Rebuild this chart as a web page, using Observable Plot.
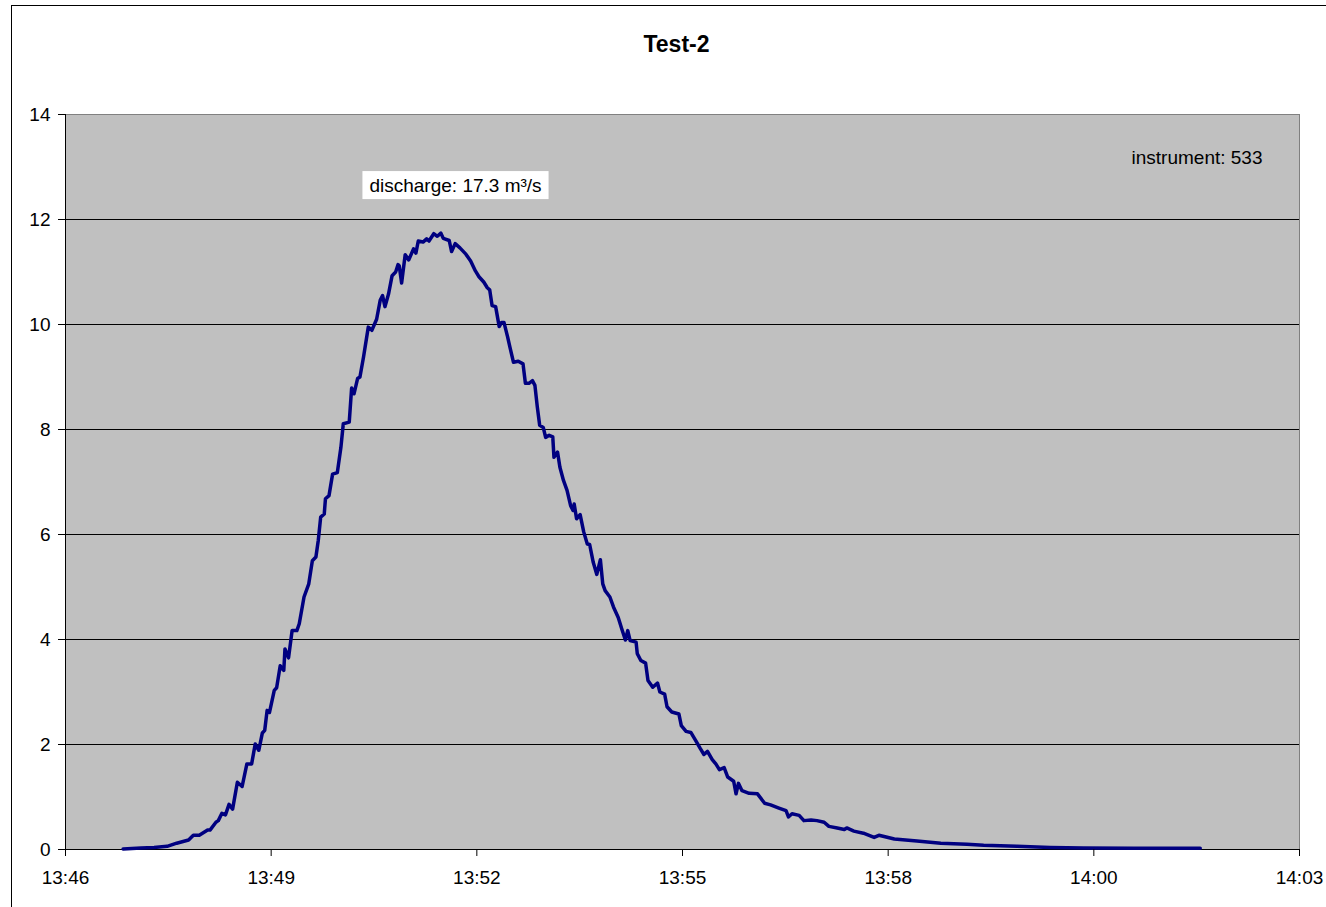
<!DOCTYPE html>
<html><head><meta charset="utf-8">
<script src="https://cdn.jsdelivr.net/npm/d3@7"></script>
<script src="https://cdn.jsdelivr.net/npm/@observablehq/plot@0.6"></script>
<style>
html,body{margin:0;padding:0;background:#fff;overflow:hidden;}
#wrap{position:relative;width:1326px;height:907px;}
#border{position:absolute;left:11px;top:5px;width:1400px;height:1000px;border:1px solid #000;pointer-events:none;}
</style></head><body>
<div id="wrap"></div>
<script>
const title = "Test-2";
const noteDischarge = "discharge: 17.3 m³/s";
const noteInstrument = "instrument: 533";

// seconds after 13:46:00
const timeSec = [82,97,108,119,127,137,141,146,153,155,
160,162,165,168,171,174,178,182,186,190,
193,196,199,201,203,205,209,211,214,217,
218,221,224,228,230,234,238,241,244,246,
248,251,252,255,258,262,265,267,272,274,
276,279,281,284,288,291,295,298,300,302,
305,308,311,313,314,316,319,322,326,328,
330,334,337,339,343,346,349,351,356,358,
361,365,370,374,378,381,385,388,390,392,
395,398,400,402,405,407,410,414,418,420,
423,426,428,430,432,435,437,440,443,444,
447,449,452,455,458,460,461,463,466,469,
472,474,477,480,483,485,487,491,494,498,
501,504,506,508,513,514,517,521,523,527,
531,533,537,539,543,549,551,555,559,563,
567,570,573,577,580,583,587,590,595,597,
599,602,608,615,621,626,633,639,641,644,
650,654,660,665,671,675,682,688,690,696,
704,713,717,730,749,769,791,805,833,861,
889,931,987];

const signal = [0.01,0.03,0.04,0.06,0.12,0.18,0.27,0.27,0.37,0.37,
0.52,0.55,0.69,0.66,0.86,0.77,1.28,1.20,1.63,1.63,
2.01,1.89,2.22,2.27,2.65,2.61,3.03,3.08,3.50,3.41,
3.82,3.65,4.17,4.17,4.30,4.81,5.06,5.50,5.57,5.89,
6.33,6.39,6.68,6.74,7.15,7.18,7.66,8.11,8.14,8.79,
8.68,8.97,9.00,9.38,9.95,9.89,10.10,10.46,10.55,10.34,
10.58,10.93,11.00,11.14,11.12,10.79,11.33,11.23,11.44,11.36,
11.59,11.57,11.63,11.59,11.73,11.68,11.74,11.64,11.60,11.39,
11.54,11.46,11.34,11.21,11.02,10.91,10.81,10.70,10.66,10.36,
10.34,9.96,10.04,10.04,9.77,9.57,9.28,9.30,9.25,8.88,
8.88,8.93,8.84,8.43,8.08,8.04,7.85,7.89,7.86,7.47,
7.57,7.28,7.03,6.84,6.55,6.46,6.58,6.30,6.38,6.05,
5.82,5.81,5.47,5.24,5.52,5.06,4.93,4.81,4.62,4.42,
4.20,3.99,4.17,3.98,3.95,3.73,3.60,3.55,3.22,3.09,
3.17,3.00,2.96,2.72,2.62,2.58,2.36,2.25,2.23,2.08,
1.92,1.81,1.87,1.71,1.63,1.52,1.56,1.38,1.30,1.06,
1.26,1.12,1.07,1.06,0.88,0.85,0.79,0.74,0.62,0.68,
0.65,0.55,0.56,0.55,0.52,0.44,0.41,0.38,0.41,0.35,
0.31,0.23,0.27,0.20,0.16,0.12,0.10,0.08,0.06,0.04,
0.03,0.025,0.025];

// x axis: Excel day fractions 0.574 .. 0.586 step 0.002, expressed in seconds after 13:46:00
const xTickSec = [33.6, 206.4, 379.2, 552, 724.8, 897.6, 1070.4];
const xTickLabels = ["13:46","13:49","13:52","13:55","13:58","14:00","14:03"];
const yTicks = [0,2,4,6,8,10,12,14];
const yGrid = [2,4,6,8,10,12];

const data = timeSec.map((t, i) => ({t, v: signal[i]}));
const xDomain = [xTickSec[0], xTickSec[xTickSec.length - 1]];

const font = "'Liberation Sans', Arial, sans-serif";

const chart = Plot.plot({
  width: 1326,
  height: 907,
  marginLeft: 65,
  marginRight: 27,
  marginTop: 114,
  marginBottom: 58,
  style: {fontFamily: font, fontSize: "19px", color: "#000", background: "transparent"},
  x: {domain: xDomain},
  y: {domain: [0, 14]},
  marks: [
    Plot.frame({fill: "#C0C0C0", stroke: "#808080", strokeWidth: 1}),
    Plot.gridY(yGrid, {stroke: "#000", strokeOpacity: 1, strokeWidth: 1}),
    Plot.ruleY([0], {stroke: "#000", strokeWidth: 1}),
    Plot.ruleX([xDomain[0]], {stroke: "#000", strokeWidth: 1}),
    Plot.line(data, {x: "t", y: "v", stroke: "#000080", strokeWidth: 3.5, strokeLinejoin: "round"}),
    Plot.axisY({ticks: yTicks, tickSize: 7, tickPadding: 8, label: null, fontSize: 19}),
    Plot.axisX({ticks: xTickSec, tickFormat: d => xTickLabels[xTickSec.indexOf(d)], tickSize: 7, tickPadding: 14, label: null, fontSize: 19}),
    Plot.text([noteDischarge], {text: d => d, frameAnchor: "top-left", dx: 390, dy: 71, textAnchor: "middle", lineAnchor: "middle", fill: "#000", fontSize: 19}),
    Plot.text([noteInstrument], {text: d => d, frameAnchor: "top-right", dx: -37, dy: 43, textAnchor: "end", lineAnchor: "middle", fill: "#000", fontSize: 19}),
    Plot.text([title], {text: d => d, frameAnchor: "top", dx: -6, dy: -70, textAnchor: "middle", lineAnchor: "middle", fill: "#000", fontSize: 23, fontWeight: "bold"})
  ]
});

const wrap = document.getElementById("wrap");
wrap.appendChild(chart);
const b = document.createElement("div");
b.id = "border";
wrap.appendChild(b);

// white box behind the discharge note
const svgEl = chart.tagName.toLowerCase() === "svg" ? chart : chart.querySelector("svg");
const ns = "http://www.w3.org/2000/svg";
const texts = Array.from(svgEl.querySelectorAll("text"));
const t = texts.find(el => el.textContent === noteDischarge);
if (t) {
  const tb = t.getBoundingClientRect();
  const sb = svgEl.getBoundingClientRect();
  const r = document.createElementNS(ns, "rect");
  const cx = tb.left - sb.left + tb.width / 2;
  const cy = tb.top - sb.top + tb.height / 2;
  r.setAttribute("x", cx - tb.width / 2 - 7);
  r.setAttribute("y", cy - 14);
  r.setAttribute("width", tb.width + 14);
  r.setAttribute("height", 28);
  r.setAttribute("fill", "#fff");
  // place the box in root coordinates, just before the text's mark group
  const markG = t.closest("g") || t.parentNode;
  svgEl.insertBefore(r, markG.parentNode === svgEl ? markG : null);
}
</script>
</body></html>
